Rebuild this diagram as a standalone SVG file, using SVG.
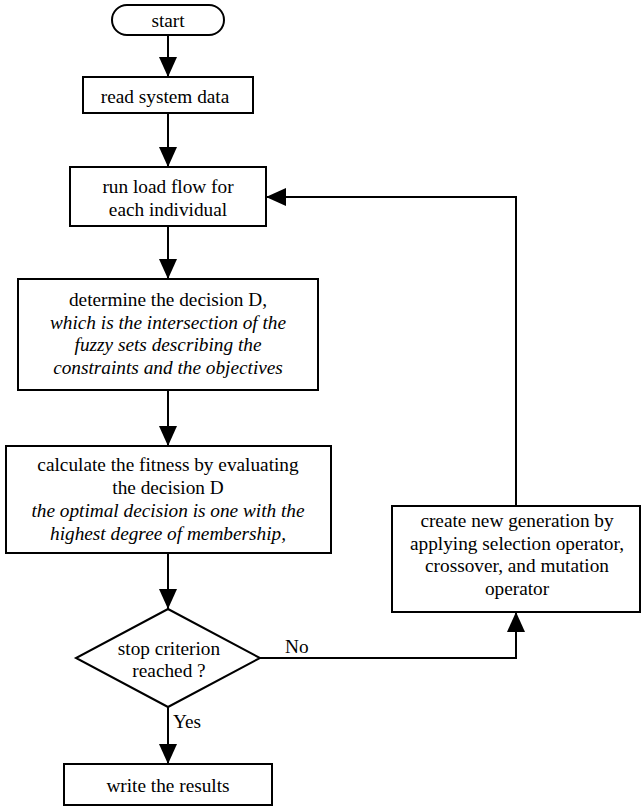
<svg xmlns="http://www.w3.org/2000/svg" width="642" height="807" viewBox="0 0 642 807">
<style>
.n{fill:#fff;stroke:#000;stroke-width:2}
.t{font-family:"Liberation Serif","Times New Roman",serif;font-size:19.3px;fill:#000;text-anchor:middle}
.i{font-style:italic}
.l{font-family:"Liberation Serif","Times New Roman",serif;font-size:19.3px;fill:#000}
.c{fill:none;stroke:#000;stroke-width:2}
</style>
<defs>
<marker id="a" markerUnits="userSpaceOnUse" markerWidth="20" markerHeight="18" refX="20" refY="9" orient="auto" viewBox="0 0 20 18">
<path d="M0,0 L20,9 L0,18 z" fill="#000"/>
</marker>
</defs>
<rect width="642" height="807" fill="#fff"/>
<g id="connectors">
<path class="c" d="M168,35 V77" marker-end="url(#a)"/>
<path class="c" d="M168,113 V167" marker-end="url(#a)"/>
<path class="c" d="M168,226 V279" marker-end="url(#a)"/>
<path class="c" d="M168,390 V446" marker-end="url(#a)"/>
<path class="c" d="M168,553 V609" marker-end="url(#a)"/>
<path class="c" d="M168,707 V764" marker-end="url(#a)"/>
<path class="c" d="M260,658 H516 V612" marker-end="url(#a)"/>
<path class="c" d="M516,506 V197 H266" marker-end="url(#a)"/>
<text class="l" x="173" y="728">Yes</text>
<text class="l" x="285" y="653">No</text>
</g>
<g id="start">
<rect class="n" x="112" y="5" width="112" height="30" rx="15" ry="15"/>
<text class="t" x="168" y="27">start</text>
</g>
<g id="read">
<rect class="n" x="83" y="77" width="170" height="36"/>
<text class="t" x="165" y="103">read system data</text>
</g>
<g id="run">
<rect class="n" x="70" y="167" width="196" height="59"/>
<text class="t" x="168" y="193">run load flow for</text>
<text class="t" x="168" y="216">each individual</text>
</g>
<g id="determine">
<rect class="n" x="18" y="279" width="300" height="111"/>
<text class="t" x="168" y="306">determine the decision D,</text>
<text class="t i" x="168" y="328.5">which is the intersection of the</text>
<text class="t i" x="168" y="351">fuzzy sets describing the</text>
<text class="t i" x="168" y="373.5">constraints and the objectives</text>
</g>
<g id="calculate">
<rect class="n" x="6" y="446" width="325" height="107"/>
<text class="t" x="168" y="471">calculate the fitness by evaluating</text>
<text class="t" x="168" y="494">the decision D</text>
<text class="t i" x="168" y="517">the optimal decision is one with the</text>
<text class="t i" x="168" y="540">highest degree of membership,</text>
</g>
<g id="stop">
<path class="n" d="M168,609 L260,658 L168,707 L76,658 Z"/>
<text class="t" x="169" y="655">stop criterion</text>
<text class="t" x="169" y="677">reached ?</text>
</g>
<g id="create">
<rect class="n" x="392" y="506" width="248" height="106"/>
<text class="t" x="517" y="527">create new generation by</text>
<text class="t" x="517" y="549.5">applying selection operator,</text>
<text class="t" x="517" y="572">crossover, and mutation</text>
<text class="t" x="517" y="594.5">operator</text>
</g>
<g id="write">
<rect class="n" x="64" y="764" width="208" height="41"/>
<text class="t" x="168" y="792">write the results</text>
</g>
</svg>
